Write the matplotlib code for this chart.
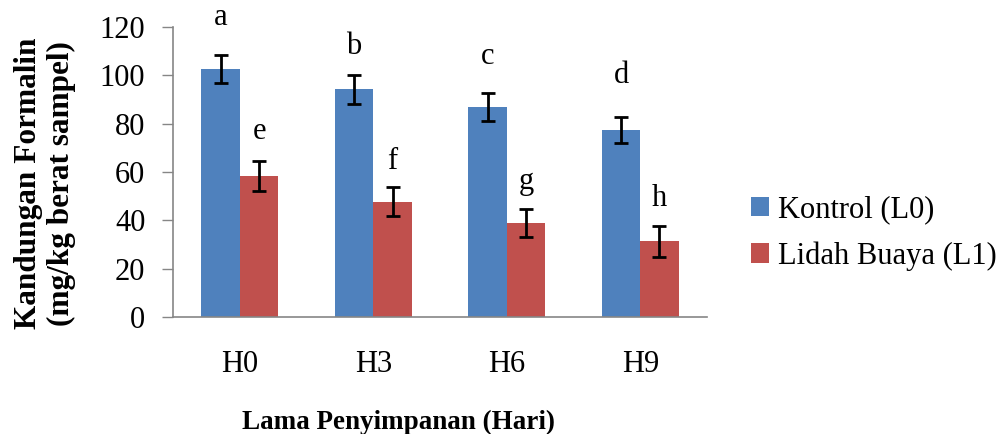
import numpy as np
import matplotlib.pyplot as plt

# data
categories = ["H0", "H3", "H6", "H9"]
kontrol = [102.7, 94.3, 86.9, 77.4]
kontrol_err = [5.7, 6.0, 5.7, 5.5]
lidah = [58.3, 47.7, 38.8, 31.3]
lidah_err = [6.2, 6.0, 5.8, 6.3]
kontrol_letters = ["a", "b", "c", "d"]
lidah_letters = ["e", "f", "g", "h"]
# heights where the significance letters sit
kontrol_letter_y = [124.0, 111.8, 107.7, 100.1]
lidah_letter_y = [76.7, 64.3, 56.0, 49.2]

blue = "#4F81BD"
red = "#C0504D"
axis_grey = "#868686"
serif = ['Liberation Serif', 'DejaVu Serif']

plt.rcParams['font.family'] = serif

fig = plt.figure(figsize=(10.02, 4.34), dpi=100)
ax = fig.add_axes([0.1727, 0.2696, 0.5329, 0.6682])

x = np.arange(len(categories))
w = 0.288
err_kw = dict(ecolor="black", elinewidth=2.0, capsize=5, capthick=2.0)
ax.bar(x - w / 2, kontrol, w, color=blue, yerr=kontrol_err,
       error_kw=err_kw, label="Kontrol (L0)")
ax.bar(x + w / 2, lidah, w, color=red, yerr=lidah_err,
       error_kw=err_kw, label="Lidah Buaya (L1)")

for i in range(len(categories)):
    ax.text(x[i] - w / 2, kontrol_letter_y[i], kontrol_letters[i],
            ha="center", va="center", fontsize=22, clip_on=False)
    ax.text(x[i] + w / 2, lidah_letter_y[i], lidah_letters[i],
            ha="center", va="center", fontsize=22, clip_on=False)

ax.set_xlim(-0.5, 3.5)
ax.set_ylim(0, 120)
ax.set_yticks(range(0, 121, 20))
ax.set_xticks(x)
ax.set_xticklabels(categories)
ax.tick_params(axis="y", direction="out", length=8, width=1, color=axis_grey,
               labelsize=22, pad=12)
ax.tick_params(axis="x", length=0, labelsize=22, pad=24)

for s in ["top", "right"]:
    ax.spines[s].set_visible(False)
for s in ["left", "bottom"]:
    ax.spines[s].set_color(axis_grey)
    ax.spines[s].set_linewidth(1.2)

fig.text(0.398, 0.027, "Lama Penyimpanan (Hari)", ha="center", va="center",
         fontsize=19.5, fontweight="bold")
fig.text(0.045, 0.578, "Kandungan Formalin\n(mg/kg berat sampel)", ha="center",
         va="center", rotation=90, fontsize=22.5, fontweight="bold",
         linespacing=1.15)

fig.legend(loc="center left", bbox_to_anchor=(0.7495, 0.463), frameon=False,
           prop={'family': serif, 'size': 22}, handlelength=0.6,
           handleheight=0.6, handletextpad=0.3, labelspacing=0.55,
           borderaxespad=0, borderpad=0)

fig.savefig("out.png", dpi=100)
